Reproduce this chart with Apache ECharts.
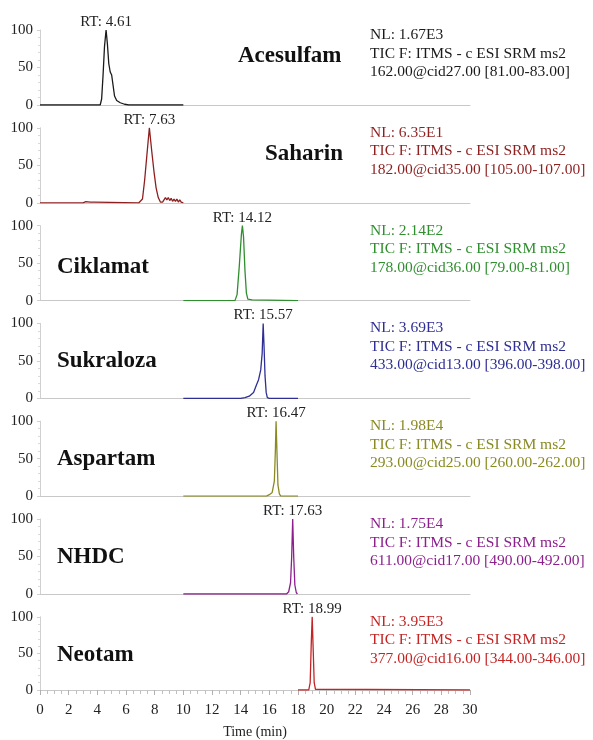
<!DOCTYPE html>
<html><head><meta charset="utf-8">
<script src="https://cdn.jsdelivr.net/npm/echarts@6/dist/echarts.min.js"></script>
<style>html,body{margin:0;padding:0;background:#fff}#c{width:593px;height:740px}</style>
</head><body><div id="c"></div>
<script>
const compounds = ['Acesulfam','Saharin','Ciklamat','Sukraloza','Aspartam','NHDC','Neotam'];
const rtLabels = ['RT: 4.61','RT: 7.63','RT: 14.12','RT: 15.57','RT: 16.47','RT: 17.63','RT: 18.99'];
const nlLabels = ['NL: 1.67E3','NL: 6.35E1','NL: 2.14E2','NL: 3.69E3','NL: 1.98E4','NL: 1.75E4','NL: 3.95E3'];
const scanLabel = 'TIC F: ITMS - c ESI SRM ms2';
const srmLabels = ['162.00@cid27.00 [81.00-83.00]','182.00@cid35.00 [105.00-107.00]','178.00@cid36.00 [79.00-81.00]',
  '433.00@cid13.00 [396.00-398.00]','293.00@cid25.00 [260.00-262.00]','611.00@cid17.00 [490.00-492.00]','377.00@cid16.00 [344.00-346.00]'];
const colors = ['#1a1a1a','#8e1f1f','#2f8f2f','#2e2e94','#8a8a22','#8c1f8c','#c42424'];
const xTicks = [0,2,4,6,8,10,12,14,16,18,20,22,24,26,28,30];
const yTicks = [0,50,100];

const acesulfam = [[0,0],[4.2,0],[4.3,8],[4.4,40],[4.5,78],[4.61,100],[4.7,82],[4.8,55],[4.9,44],[5.0,40],[5.1,26],[5.2,12],[5.35,6],[5.6,3],[5.9,1],[6.2,0],[10,0]];
const saharin = [[0,0],[1.4,0],[1.5,2],[1.6,0],[2.8,0],[2.9,1.5],[3.0,0],[3.2,1.5],[3.3,0],[3.5,1],[3.6,0],[3.8,1],[3.9,0],[6.9,0],[7.0,1],[7.15,5],[7.3,30],[7.45,62],[7.63,100],[7.8,68],[7.95,42],[8.1,20],[8.25,7],[8.4,1],[8.55,1],[8.65,4],[8.75,7],[8.85,4],[8.95,7],[9.05,3],[9.15,6],[9.25,2],[9.35,5],[9.45,2],[9.55,5],[9.65,1],[9.75,4],[9.85,1],[10,0]];
const ciklamat = [[10,0],[13.6,0],[13.75,8],[13.9,45],[14.05,88],[14.12,100],[14.2,85],[14.3,40],[14.4,10],[14.5,2],[14.6,0],[14.8,1],[14.9,0],[18,0]];
const sukraloza = [[10,0],[14.0,0],[14.3,1],[14.6,3],[14.9,8],[15.1,18],[15.25,25],[15.4,38],[15.5,60],[15.57,100],[15.63,70],[15.7,30],[15.78,8],[15.86,1],[16,0],[18,0]];
const aspartam = [[10,0],[15.8,0],[16.0,2],[16.2,5],[16.35,20],[16.42,60],[16.47,100],[16.53,60],[16.6,15],[16.7,3],[16.8,0],[18,0]];
const nhdc = [[10,0],[17.2,0],[17.35,3],[17.48,15],[17.56,50],[17.63,100],[17.7,50],[17.78,12],[17.88,2],[17.96,0]];
const neotam = [[18,0],[18.75,0],[18.85,10],[18.92,60],[18.99,100],[19.06,55],[19.13,10],[19.22,1],[19.35,0],[30,0]];
const traces = [acesulfam,saharin,ciklamat,sukraloza,aspartam,nhdc,neotam];

const FONT = '"Liberation Serif","Times New Roman",serif';
const nameLeft = [238,265,57,57,57,57,57];
const nameDy = [26,26,41,38,38,38,38];
const N = compounds.length;
const top0 = 30, step = 97.8, h = 75, left = 40, width = 430;

const grid=[], xAxis=[], yAxis=[], series=[], title=[];
for (let i=0;i<N;i++){
  const t = top0 + step*i;
  const last = i===N-1;
  grid.push({left:left, width:width, top:t, height:h});
  xAxis.push({type:'value', gridIndex:i, min:xTicks[0], max:xTicks[xTicks.length-1], interval:2,
    axisLine:{show:true, onZero:false, lineStyle:{color:'#c8c8c8', width:1}},
    axisTick:{show:last, length:5, lineStyle:{color:'#b0b0b0'}},
    minorTick:{show:last, splitNumber:4, length:4, lineStyle:{color:'#c0c0c0'}},
    axisLabel:{show:last, margin:13, fontFamily:FONT, fontSize:15, color:'#222'},
    splitLine:{show:false},
    name: last ? 'Time (min)' : '', nameLocation:'middle', nameGap:35,
    nameTextStyle:{fontFamily:FONT, fontSize:14, color:'#222'}});
  yAxis.push({type:'value', gridIndex:i, min:yTicks[0], max:yTicks[yTicks.length-1], interval:50,
    axisLine:{show:true, lineStyle:{color:'#d0d0d0', width:1}},
    axisTick:{show:true, length:3, lineStyle:{color:'#d0d0d0'}},
    minorTick:{show:true, splitNumber:5, length:2, lineStyle:{color:'#dadada'}},
    axisLabel:{margin:7, fontFamily:FONT, fontSize:15, color:'#222'},
    splitLine:{show:false}});
  series.push({type:'line', xAxisIndex:i, yAxisIndex:i, data:traces[i], showSymbol:false, smooth:false,
    lineStyle:{color:colors[i], width:1.3}, itemStyle:{color:colors[i]}, animation:false,
    markPoint:{symbol:'circle', symbolSize:1, itemStyle:{color:'rgba(0,0,0,0)'}, animation:false,
      data:[{type:'max'}],
      label:{show:true, position:'top', distance:0, lineHeight:15, formatter:rtLabels[i], fontFamily:FONT, fontSize:15, color:'#222'}}});
  title.push({text:compounds[i], left:nameLeft[i], top:t + nameDy[i] - 14,
    textStyle:{fontFamily:FONT, fontSize:23, fontWeight:'bold', color:'#111', lineHeight:28}, padding:0});
  title.push({text:nlLabels[i]+'\n'+scanLabel+'\n'+srmLabels[i], left:370, top:t+5-9.25, padding:0,
    textStyle:{fontFamily:FONT, fontSize:15.5, fontWeight:'normal', color:colors[i], lineHeight:18.5}});
}
const chart = echarts.init(document.getElementById('c'));
chart.setOption({animation:false, grid, xAxis, yAxis, series, title});
</script></body></html>
